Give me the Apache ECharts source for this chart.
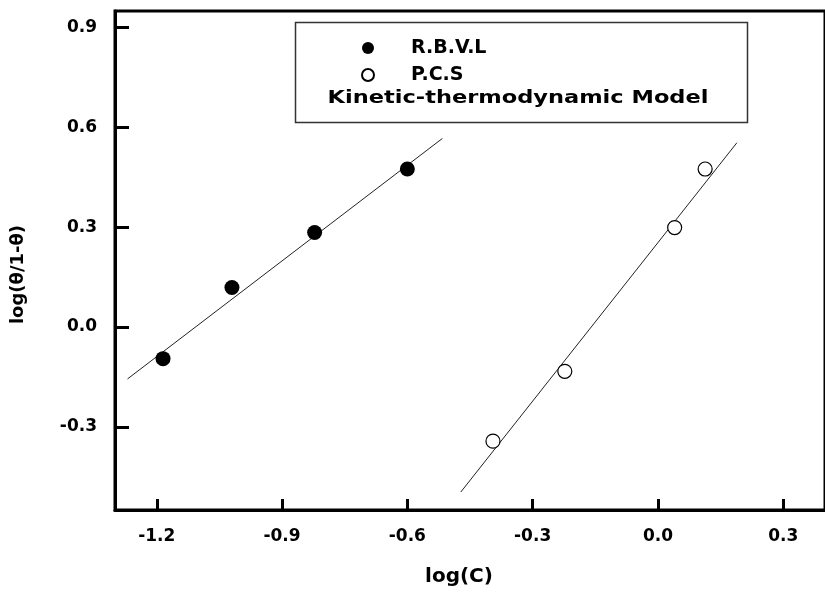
<!DOCTYPE html>
<html>
<head>
<meta charset="utf-8">
<script src="https://cdn.jsdelivr.net/npm/echarts@6/dist/echarts.min.js"></script>
<style>
  html, body { margin: 0; padding: 0; background: #fff; }
  #chart { width: 825px; height: 592px; }
</style>
</head>
<body>
<div id="chart"></div>
<script>
// measured points
var rbvlX = [-1.185, -1.02, -0.822, -0.6];
var rbvlY = [-0.095, 0.119, 0.284, 0.475];
var pcsX = [-0.395, -0.223, 0.04, 0.113];
var pcsY = [-0.343, -0.133, 0.299, 0.475];

// fitted lines (end points)
var rbvlFitX = [-1.27, -0.516];
var rbvlFitY = [-0.156, 0.567];
var pcsFitX = [-0.472, 0.189];
var pcsFitY = [-0.496, 0.554];

var xTicks = [-1.2, -0.9, -0.6, -0.3, 0.0, 0.3];
var yTicks = [-0.3, 0.0, 0.3, 0.6, 0.9];

function pairs(xs, ys) {
  return xs.map(function (x, i) { return [x, ys[i]]; });
}

var font = 'DejaVu Sans';
var chart = echarts.init(document.getElementById('chart'));

var option = {
  backgroundColor: '#fff',
  animation: false,
  grid: {
    left: 115,
    top: 11,
    right: -28,
    bottom: 80,
    show: true,
    borderColor: '#000',
    borderWidth: 3
  },
  legend: {
    orient: 'vertical',
    left: 356,
    top: 33,
    itemWidth: 12,
    itemHeight: 12,
    itemGap: 7,
    textStyle: {
      fontFamily: font,
      fontWeight: 'bold',
      fontSize: 19,
      lineHeight: 20,
      color: '#000',
      padding: [0, 0, 0, 32]
    },
    data: ['R.B.V.L', 'P.C.S']
  },
  graphic: [
    {
      type: 'rect',
      left: 293,
      top: 20,
      shape: { width: 452, height: 100 },
      style: { fill: 'none', stroke: '#333', lineWidth: 1.5 },
      z: 5
    },
    {
      type: 'text',
      x: 518,
      y: 98,
      scaleX: 1.25,
      style: {
        text: 'Kinetic-thermodynamic Model',
        font: 'bold 18px "DejaVu Sans"',
        fill: '#000',
        align: 'center',
        verticalAlign: 'middle'
      },
      z: 5
    }
  ],
  xAxis: {
    type: 'value',
    min: -1.3,
    max: 0.4,
    name: 'log(C)',
    nameLocation: 'middle',
    nameGap: 57,
    nameTextStyle: {
      fontFamily: font,
      fontWeight: 'bold',
      fontSize: 20,
      color: '#000',
      padding: [0, 22, 0, 0]
    },
    axisLine: { onZero: false, lineStyle: { color: '#000', width: 3 } },
    axisTick: {
      inside: true,
      length: 11,
      lineStyle: { color: '#000', width: 3 },
      customValues: xTicks
    },
    axisLabel: {
      margin: 18,
      fontFamily: font,
      fontWeight: 'bold',
      fontSize: 17,
      color: '#000',
      customValues: xTicks,
      formatter: function (v) { return v.toFixed(1); }
    },
    splitLine: { show: false }
  },
  yAxis: {
    type: 'value',
    min: -0.55,
    max: 0.95,
    name: 'log(θ/1-θ)',
    nameLocation: 'middle',
    nameGap: 88,
    nameTextStyle: {
      fontFamily: font,
      fontWeight: 'bold',
      fontSize: 18,
      color: '#000',
      padding: [0, 28, 0, 0]
    },
    axisLine: { onZero: false, lineStyle: { color: '#000', width: 3 } },
    axisTick: {
      inside: true,
      length: 14,
      lineStyle: { color: '#000', width: 3 },
      customValues: yTicks
    },
    axisLabel: {
      margin: 18,
      fontFamily: font,
      fontWeight: 'bold',
      fontSize: 17,
      color: '#000',
      customValues: yTicks,
      formatter: function (v) { return v.toFixed(1); }
    },
    splitLine: { show: false }
  },
  series: [
    {
      name: 'R.B.V.L fit',
      type: 'line',
      data: pairs(rbvlFitX, rbvlFitY),
      symbol: 'none',
      lineStyle: { color: '#222', width: 1 },
      z: 2
    },
    {
      name: 'P.C.S fit',
      type: 'line',
      data: pairs(pcsFitX, pcsFitY),
      symbol: 'none',
      lineStyle: { color: '#222', width: 1 },
      z: 2
    },
    {
      name: 'R.B.V.L',
      type: 'scatter',
      data: pairs(rbvlX, rbvlY),
      symbol: 'circle',
      symbolSize: 15,
      itemStyle: { color: '#000', opacity: 1 },
      z: 3
    },
    {
      name: 'P.C.S',
      type: 'scatter',
      data: pairs(pcsX, pcsY),
      symbol: 'circle',
      symbolSize: 14,
      itemStyle: { color: '#fff', borderColor: '#000', borderWidth: 1.2, opacity: 1 },
      z: 3
    }
  ]
};

chart.setOption(option);
</script>
</body>
</html>
